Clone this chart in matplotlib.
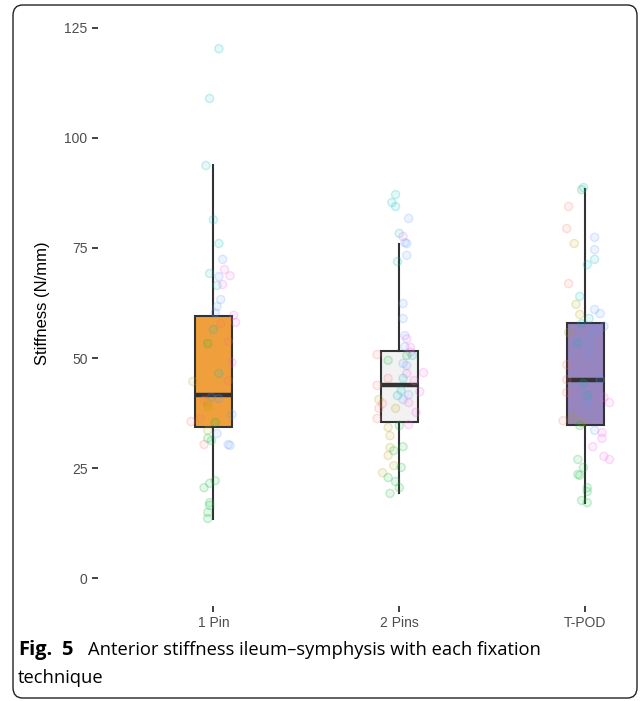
import numpy as np
import matplotlib.pyplot as plt
from matplotlib.colors import to_rgba
from matplotlib.patches import FancyBboxPatch

plt.rcParams['font.family'] = ['Liberation Sans', 'DejaVu Sans']

# --- Data ---
groups = ["1 Pin", "2 Pins", "T-POD"]
box_fill = ["#EFA03C", "#F2F2F2", "#9685BF"]

q1 = [34.3, 35.4, 34.9]
med = [41.6, 43.8, 45.1]
q3 = [59.5, 51.7, 58.0]
whis_lo = [13.6, 19.3, 17.2]
whis_hi = [93.7, 76.0, 88.4]

# ggplot default hue palette (6 levels)
hue = {"r": "#F8766D", "y": "#B79F00", "g": "#00BA38",
       "t": "#00BFC4", "b": "#619CFF", "p": "#F564E3"}

# jittered points: value, horizontal jitter (category units), colour key
pin1_vals = [120.2, 108.9, 93.7, 81.4, 76.0, 72.4, 70.1, 68.7, 69.2, 68.5, 66.5, 66.7,
             63.3, 61.7, 60.3, 59.7, 58.1, 57.8, 56.5, 53.3, 53.8, 49.0, 46.5, 44.9,
             44.7, 41.1, 40.8, 39.9, 39.0, 40.4, 35.6, 36.3, 35.4, 37.2, 33.6, 32.9,
             31.8, 31.3, 30.4, 30.4, 30.2, 22.2, 21.6, 20.6, 17.2, 16.6, 15.0, 13.6]
pin1_jit = [0.03, -0.02, -0.04, 0.0, 0.03, 0.05, 0.06, 0.09, -0.02, 0.03, 0.02, 0.05,
            0.04, 0.02, 0.01, 0.11, 0.12, 0.04, 0.0, -0.03, 0.08, 0.10, 0.03, 0.08,
            -0.11, -0.01, 0.03, -0.03, -0.03, -0.05, -0.12, -0.07, 0.01, 0.10, -0.03, 0.02,
            -0.03, -0.01, -0.05, 0.08, 0.09, 0.01, -0.02, -0.05, -0.02, -0.02, -0.03, -0.03]
pin1_col = ["t", "t", "t", "t", "t", "b", "p", "p", "t", "b", "t", "p",
            "b", "b", "b", "p", "p", "r", "t", "g", "r", "p", "t", "r",
            "y", "b", "b", "y", "y", "r", "r", "r", "g", "b", "y", "b",
            "g", "g", "r", "b", "b", "g", "g", "g", "g", "g", "g", "g"]

pin2_vals = [87.1, 85.3, 84.4, 81.7, 78.3, 77.6, 76.2, 76.0, 73.3, 71.9, 62.4, 59.0,
             55.1, 54.4, 52.6, 52.4, 51.3, 50.6, 50.8, 49.5, 50.6, 48.8, 48.3, 46.7,
             46.5, 45.4, 45.4, 44.9, 43.8, 42.6, 42.4, 41.5, 41.7, 40.6, 39.9, 40.6,
             39.7, 38.6, 38.6, 37.7, 36.3, 34.9, 34.3, 34.7, 32.4, 29.7, 29.9, 29.0,
             27.9, 25.6, 25.2, 24.0, 22.9, 22.0, 20.6, 19.3]
pin2_jit = [-0.02, -0.04, -0.02, 0.05, 0.0, 0.02, 0.03, 0.04, 0.04, -0.01, 0.02, 0.02,
            0.03, 0.04, 0.03, 0.06, 0.06, 0.07, -0.12, -0.06, 0.04, 0.02, 0.04, 0.13,
            0.04, -0.06, 0.02, 0.08, -0.12, 0.01, 0.11, -0.01, 0.05, 0.02, 0.05, -0.11,
            -0.09, -0.11, -0.02, 0.09, -0.12, 0.05, -0.06, 0.0, -0.05, -0.05, 0.02, -0.03,
            -0.06, -0.03, 0.01, -0.09, -0.06, -0.02, 0.0, -0.05]
pin2_col = ["t", "t", "t", "b", "t", "p", "b", "b", "b", "t", "b", "b",
            "b", "p", "b", "p", "p", "t", "r", "g", "g", "b", "b", "p",
            "p", "r", "t", "p", "r", "t", "p", "t", "b", "b", "p", "y",
            "r", "r", "y", "p", "r", "p", "y", "g", "y", "y", "g", "g",
            "y", "y", "g", "y", "g", "g", "g", "g"]

tpod_vals = [88.2, 88.7, 84.4, 79.4, 76.0, 77.4, 74.6, 72.4, 71.2, 66.9, 64.0, 62.2,
             61.0, 60.1, 59.9, 59.0, 57.2, 55.8, 56.3, 57.8, 54.4, 53.5, 51.7, 48.5,
             45.1, 45.1, 44.2, 42.2, 41.5, 41.1, 39.9, 39.7, 35.8, 36.5, 35.4, 34.7,
             33.6, 33.1, 31.8, 29.9, 27.7, 27.0, 27.0, 25.2, 23.6, 23.4, 20.6, 19.7,
             17.7, 17.2]
tpod_jit = [-0.02, -0.01, -0.09, -0.10, -0.06, 0.05, 0.05, 0.05, 0.01, -0.09, -0.03, -0.05,
            0.05, 0.08, -0.03, 0.02, 0.10, -0.09, 0.05, -0.02, 0.02, -0.04, 0.02, -0.10,
            -0.10, 0.08, -0.01, -0.10, 0.01, 0.10, 0.13, 0.01, -0.12, -0.07, -0.02, -0.03,
            0.05, 0.09, 0.09, 0.04, 0.10, 0.13, -0.04, -0.01, -0.04, -0.03, 0.01, 0.01,
            -0.02, 0.01]
tpod_col = ["g", "t", "r", "r", "y", "b", "b", "t", "t", "r", "t", "y",
            "b", "b", "y", "t", "b", "y", "b", "t", "b", "t", "b", "r",
            "r", "b", "t", "r", "t", "p", "p", "b", "r", "y", "y", "g",
            "b", "p", "p", "p", "p", "p", "g", "g", "g", "g", "g", "g",
            "g", "g"]

points = [(pin1_vals, pin1_jit, pin1_col),
          (pin2_vals, pin2_jit, pin2_col),
          (tpod_vals, tpod_jit, tpod_col)]

y_ticks = [0, 25, 50, 75, 100, 125]

# --- Figure ---
fig = plt.figure(figsize=(6.4, 7.01), dpi=100)
ax = fig.add_axes([98 / 640, 1 - 606 / 701, 539 / 640, 606 / 701])

# boxes
stats = []
for i, g in enumerate(groups):
    stats.append(dict(label=g, q1=q1[i], med=med[i], q3=q3[i],
                      whislo=whis_lo[i], whishi=whis_hi[i], fliers=[]))
bp = ax.bxp(stats, positions=[1, 2, 3], widths=0.2, patch_artist=True,
            showcaps=False, manage_ticks=False,
            boxprops=dict(edgecolor="#333333", linewidth=1.5),
            whiskerprops=dict(color="#333333", linewidth=1.5),
            medianprops=dict(color="#333333", linewidth=3.2, solid_capstyle="butt"))
for patch, c in zip(bp["boxes"], box_fill):
    patch.set_facecolor(c)

# jittered points on top
for i, (vals, jit, cols) in enumerate(points):
    xs = np.array(jit) + (i + 1)
    fc = [to_rgba(hue[c], 0.10) for c in cols]
    ec = [to_rgba(hue[c], 0.22) for c in cols]
    ax.scatter(xs, vals, s=34, facecolors=fc, edgecolors=ec,
               linewidths=1.0, zorder=5)

ax.set_xlim(0.38, 0.38 + 539 / 186)
ax.set_ylim(-6.25, 131.25)
ax.set_xticks([1, 2, 3])
ax.set_xticklabels(groups)
ax.set_yticks(y_ticks)
ax.set_yticklabels([str(v) for v in y_ticks])
for s in ax.spines.values():
    s.set_visible(False)
ax.tick_params(axis="both", colors="#333333", length=4, width=1.3,
               labelcolor="#4D4D4D", labelsize=10)
ax.set_ylabel("Stiffness (N/mm)", fontsize=12, color="black", labelpad=10)

# caption
cap_font = ["Open Sans", "DejaVu Sans"]
fig.text(18 / 640, 1 - 650 / 701, "Fig.", fontsize=14.5, fontweight="bold",
         family=cap_font, va="center", ha="left")
fig.text(61 / 640, 1 - 650 / 701, "5", fontsize=14.5, fontweight="bold",
         family=cap_font, va="center", ha="left")
fig.text(88 / 640, 1 - 650 / 701,
         "Anterior stiffness ileum\u2013symphysis with each fixation",
         fontsize=13.2, family=cap_font, va="center", ha="left")
fig.text(18 / 640, 1 - 678 / 701, "technique", fontsize=13.2,
         family=cap_font, va="center", ha="left")

# rounded frame
frame = FancyBboxPatch((13 / 640, 1 - 698 / 701), 624 / 640, 693 / 701,
                       boxstyle="round,pad=0,rounding_size=0.015",
                       transform=fig.transFigure, fill=False,
                       edgecolor="#222222", linewidth=1.0, zorder=10)
fig.patches.append(frame)

fig.savefig("out.png", dpi=100)
